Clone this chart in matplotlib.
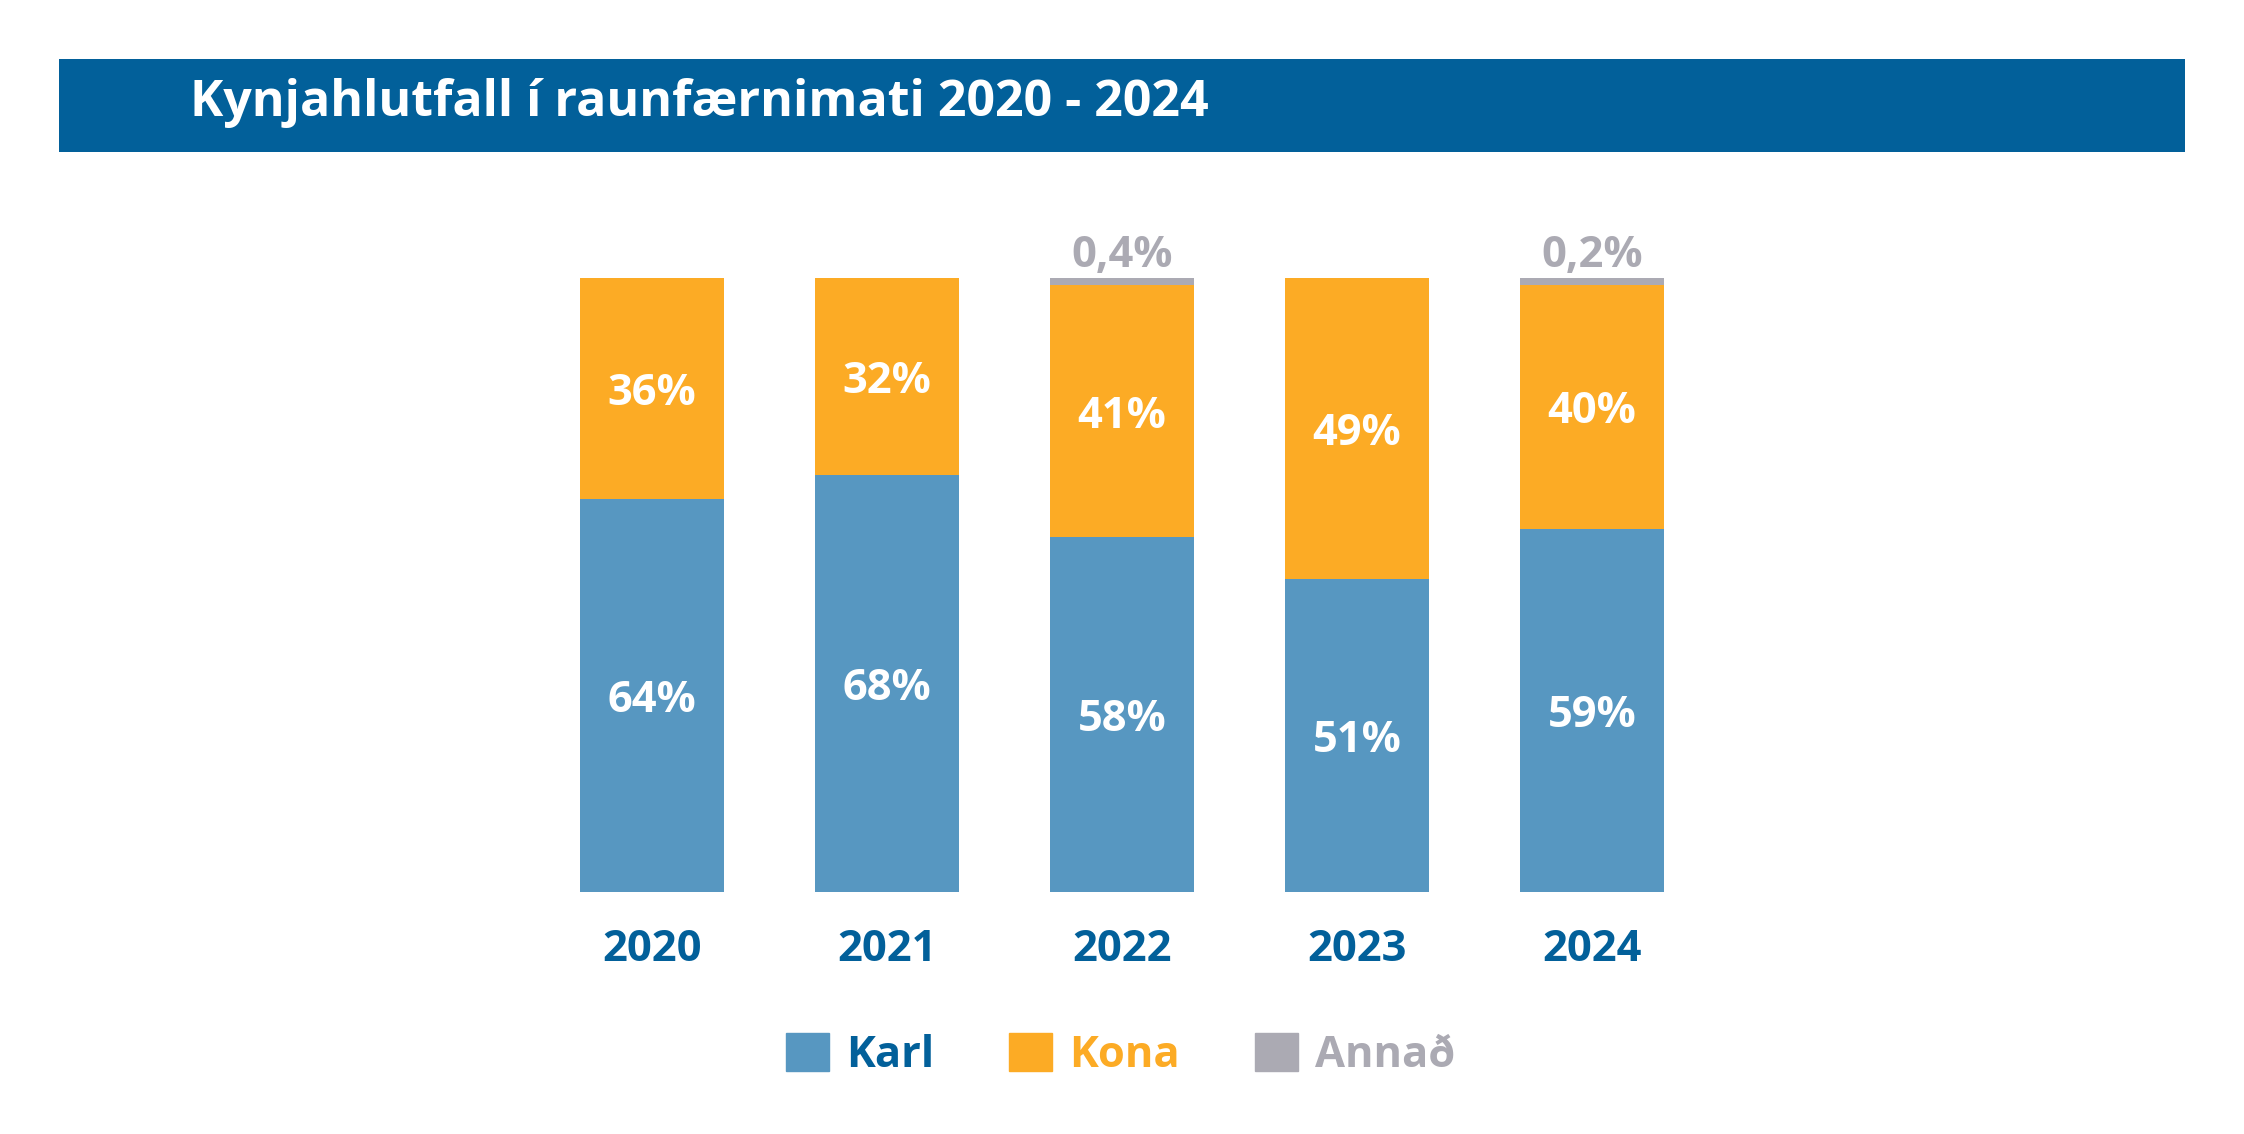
import matplotlib
matplotlib.use("Agg")
import matplotlib.pyplot as plt
from matplotlib.patches import Rectangle, Patch

plt.rcParams['font.family'] = ['Open Sans', 'DejaVu Sans']

# data (share in %)
years = ["2020", "2021", "2022", "2023", "2024"]
karl = [64, 68, 57.8, 51, 59.2]
kona = [36, 32, 41, 49, 39.6]
annad = [0, 0, 1.2, 0, 1.2]
karl_labels = ["64%", "68%", "58%", "51%", "59%"]
kona_labels = ["36%", "32%", "41%", "49%", "40%"]
annad_labels = ["", "", "0,4%", "", "0,2%"]

c_karl = "#5797c1"
c_kona = "#fcab25"
c_annad = "#abaab3"
c_dark = "#02609a"

fig = plt.figure(figsize=(22.44, 11.34), dpi=100)

# header band
fig.patches.append(Rectangle((0.0263, 0.866), 0.9474, 0.082, transform=fig.transFigure,
                             facecolor=c_dark, edgecolor="none", zorder=0))
fig.text(0.0847, 0.909, "Kynjahlutfall í raunfærnimati 2020 - 2024", color="white",
         fontsize=36.1, fontweight="bold", va="center", ha="left")

ax = fig.add_axes([0.2382, 0.2134, 0.5236, 0.5414])
x = range(len(years))
w = 0.616
ax.bar(x, karl, w, color=c_karl)
ax.bar(x, kona, w, bottom=karl, color=c_kona)
bottom3 = [a + b for a, b in zip(karl, kona)]
ax.bar(x, annad, w, bottom=bottom3, color=c_annad)

fs = 31.3
for i in x:
    ax.text(i, karl[i] / 2, karl_labels[i], ha="center", va="center_baseline",
            color="white", fontsize=fs, fontweight="bold")
    ax.text(i, karl[i] + kona[i] / 2, kona_labels[i], ha="center", va="center_baseline",
            color="white", fontsize=fs, fontweight="bold")
    if annad_labels[i]:
        ax.annotate(annad_labels[i], (i, bottom3[i] + annad[i]), xytext=(0, 8),
                    textcoords="offset points", ha="center", va="baseline",
                    color=c_annad, fontsize=fs, fontweight="bold", annotation_clip=False)

ax.set_xlim(-0.5, len(years) - 0.5)
ax.set_ylim(0, 100)
ax.set_xticks(list(x))
ax.set_xticklabels(years, fontsize=fs, fontweight="bold", color=c_dark)
ax.tick_params(axis="x", length=0, pad=26)
ax.set_yticks([])
for s in ax.spines.values():
    s.set_visible(False)

handles = [Patch(color=c_karl), Patch(color=c_kona), Patch(color=c_annad)]
leg = fig.legend(handles, ["Karl", "Kona", "Annað"], loc="center",
                 bbox_to_anchor=(0.4993, 0.0697), ncol=3, frameon=False,
                 prop={"size": fs, "weight": "bold"},
                 labelcolor=[c_dark, c_kona, c_annad],
                 handlelength=0.99, handleheight=0.99, handletextpad=0.4,
                 columnspacing=1.72)

fig.savefig("out.png", dpi=100)
